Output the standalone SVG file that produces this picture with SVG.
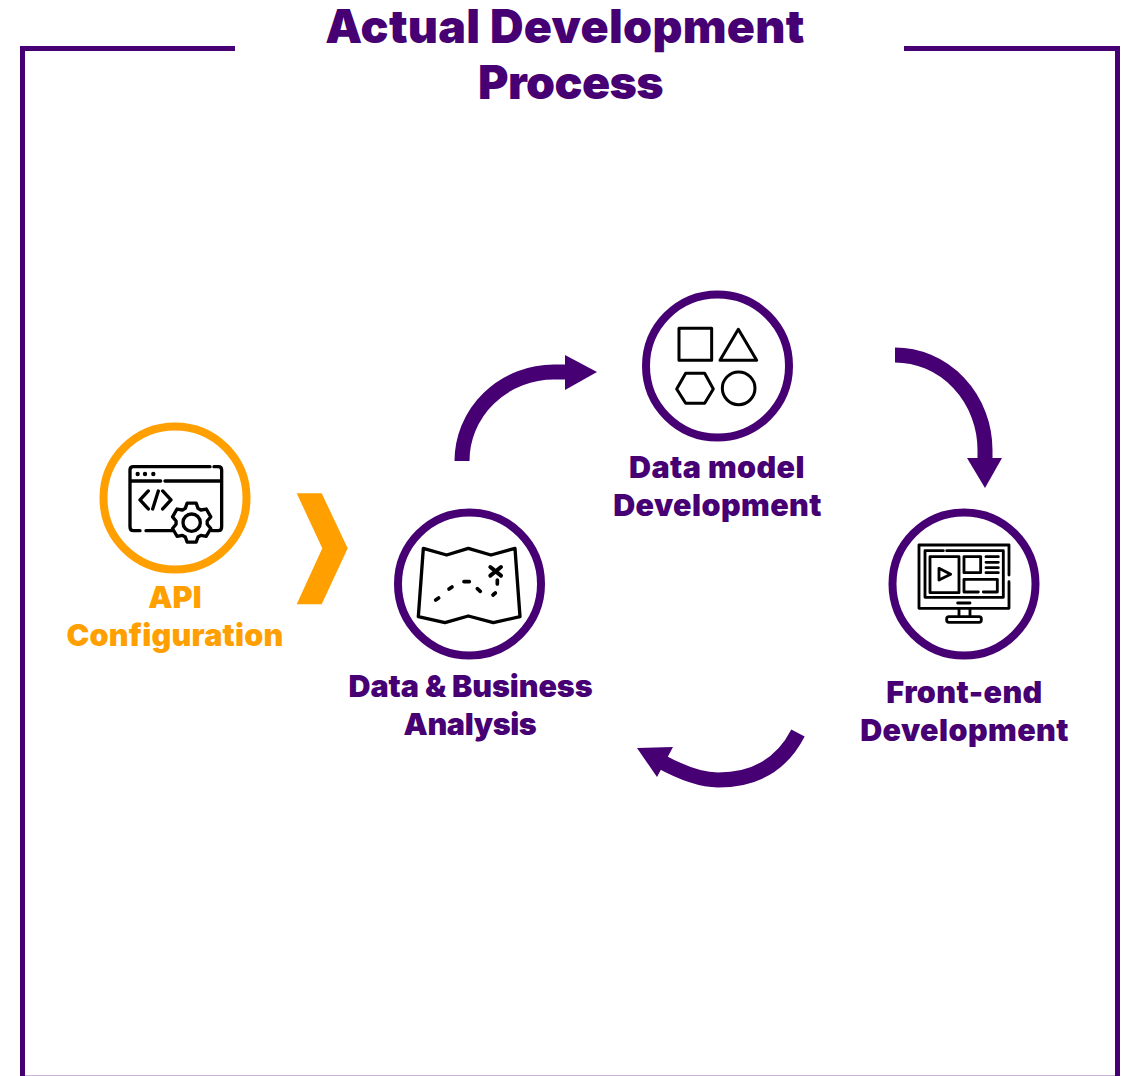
<svg xmlns="http://www.w3.org/2000/svg" width="1127" height="1076" viewBox="0 0 1127 1076">
<style>
text{font-family:Inter,"Liberation Sans",sans-serif;font-weight:900;text-anchor:middle}
.t{font-size:46.500px;fill:#460073;letter-spacing:.3px}
.p{font-size:30.500px;fill:#460073;letter-spacing:.4px}
.o{font-size:30.500px;fill:#ff9f00;letter-spacing:.2px}
.ring{fill:#fff;stroke-width:8}
.ic{fill:none;stroke:#000;stroke-linecap:round;stroke-linejoin:round}
.arc{fill:none;stroke:#460073;stroke-width:15}
.hd{fill:#460073}
</style>
<rect width="1127" height="1076" fill="#fff"/>
<g id="frame">
<path d="M235 48.500H22.500V1076M904 48.500H1117.500V1076" fill="none" stroke="#460073" stroke-width="5"/>
<path d="M25 1075.500H1115" stroke="#c8b4d6" stroke-width="1"/>
</g>
<g id="title"><text class="t" x="565" y="43">Actual Development</text><text class="t" x="570.500" y="99" style="letter-spacing:-.6px">Process</text></g>
<g id="connectors">
<path class="arc" d="M462 461A92 89 0 0 1 554 372H570"/><polygon class="hd" points="565,355 597,372 565,390"/>
<path class="arc" d="M895 355A90 95 0 0 1 985 450V462"/><polygon class="hd" points="967,458 1002,458 985,488"/>
<path class="arc" d="M798 733C780 768 750 780 718 780C700 780 680 772 660 761"/><polygon class="hd" points="637,748 673,747 657,777"/>
</g>
<g id="api">
<circle class="ring" cx="175" cy="498" r="71.500" stroke="#ff9f00"/>
<polygon id="chevron" points="296.700,493.300 321.700,493.300 347.700,548.300 321.700,604.300 296.700,604.300 322.300,548.300" fill="#ff9f00"/>
<g transform="translate(90 415) scale(.3333)">
<path class="ic" stroke-width="10" d="M360 155H130Q120 155 120 165V335Q120 347 130 347H150M168 347H248M372 155H385Q395 155 395 165V335Q395 347 385 347H365M120 198H212M225 198H395M175 228L150 255L175 282M205 228L188 282M218 228L243 255L218 282"/>
<g fill="#000"><circle cx="143" cy="177" r="6.500"/><circle cx="165" cy="177" r="6.500"/><circle cx="190" cy="177" r="6.500"/></g>
<g transform="translate(305 323)"><polygon class="ic" style="fill:#fff" stroke-width="10" points="-19.100,-43 -13.500,-58.500 13.500,-58.500 19.100,-43 27.600,-38 43.900,-40.900 57.400,-17.500 46.700,-4.900 46.700,4.900 57.400,17.500 43.900,40.900 27.600,38 19.100,43 13.500,58.500 -13.500,58.500 -19.100,43 -27.600,38 -43.900,40.900 -57.400,17.500 -46.700,4.900 -46.700,-4.900 -57.400,-17.500 -43.900,-40.900 -27.600,-38"/><circle class="ic" stroke-width="10" r="26"/></g>
</g>
<text class="o" x="175" y="608">API</text><text class="o" x="175" y="646">Configuration</text>
</g>
<g id="data-business">
<circle class="ring" cx="469.500" cy="584" r="71.500" stroke="#460073"/>
<g transform="translate(385 500) scale(.3333)">
<path class="ic" stroke-width="10" stroke-linecap="butt" d="M115 145L185 165L250 145L318 165L390 145L405 350L325 368L250 348L180 368L100 350Z"/>
<path class="ic" stroke-width="11" d="M152 300L161 294M192 267L201 261M237 245H253M277 266L286 274M324 285L331 279M337 240V252"/>
<path class="ic" stroke-width="12" d="M316 201L348 227M348 201L316 227"/>
</g>
<text class="p" x="470.500" y="697" style="letter-spacing:-.1px">Data &amp; Business</text><text class="p" x="470" y="735" style="letter-spacing:-.4px">Analysis</text>
</g>
<g id="data-model">
<circle class="ring" cx="717.500" cy="366" r="71.500" stroke="#460073"/>
<g transform="translate(630 285) scale(.3333)" class="ic" stroke-width="9">
<rect x="147" y="130" width="98" height="96"/>
<polygon points="325,133 380,226 270,226"/>
<polygon points="140,312 167,265 224,265 250,312 224,355 167,355"/>
<circle cx="326" cy="310" r="49"/>
</g>
<text class="p" x="717" y="478">Data model</text><text class="p" x="717.500" y="516">Development</text>
</g>
<g id="front-end">
<circle class="ring" cx="964" cy="584" r="71.500" stroke="#460073"/>
<g transform="translate(880 500) scale(.3333)" class="ic" stroke-width="8.500">
<path d="M387 225V135H117V325H387V245"/>
<path d="M190 152H135V292H370V152H200"/>
<rect x="150" y="170" width="87" height="108"/>
<polygon points="177,205 212,223 177,240"/>
<rect x="252" y="170" width="50" height="48"/>
<path d="M318 170H355M318 187H355M318 203H355M318 218H355"/>
<path d="M295 276H252V238H352V276H310"/>
<path d="M233 309H270M237 325V350M270 325V350"/>
<rect x="200" y="350" width="104" height="17" rx="7"/>
</g>
<text class="p" x="964.500" y="703">Front-end</text><text class="p" x="964.500" y="741">Development</text>
</g>
</svg>
